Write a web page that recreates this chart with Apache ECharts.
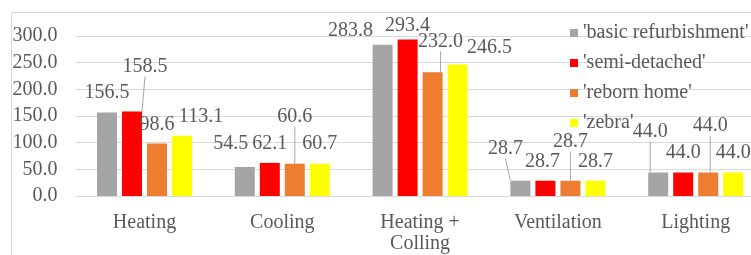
<!DOCTYPE html>
<html>
<head>
<meta charset="utf-8">
<script src="https://cdn.jsdelivr.net/npm/echarts@6/dist/echarts.min.js"></script>
<style>
html,body{margin:0;padding:0;background:#fff;}
#c{width:751px;height:255px;}
</style>
</head>
<body>
<div id="c"></div>
<script>
const categories = ['Heating', 'Cooling', 'Heating +\nColling', 'Ventilation', 'Lighting'];
const seriesNames = ["'basic refurbishment'", "'semi-detached'", "'reborn home'", "'zebra'"];
const basicRefurbishment = [156.5, 54.5, 283.8, 28.7, 44.0];
const semiDetached = [158.5, 62.1, 293.4, 28.7, 44.0];
const rebornHome = [98.6, 60.6, 232.0, 28.7, 44.0];
const zebra = [113.1, 60.7, 246.5, 28.7, 44.0];
const yTicks = [0, 50, 100, 150, 200, 250, 300];

// label layout (style, not data): offsets of labels from the default 'top' place, and leader lines
const labelOffsets = [
  [[0, -4.5], [-14, -8], [-32, 1.5], [-15, -17], [-8, -26]],
  [[13, -30], [0, -4.5], [0, 1.5], [-3, -4], [0, -5]],
  [[0, -4], [0, -32], [8, -16], [0, -24], [2, -31.5]],
  [[19, -4], [0, -5], [32, -1.5], [0, -4], [0, -5]]
];
const leaderLines = [
  [false, false, false, true, true],
  [true, false, false, false, false],
  [false, true, true, true, true],
  [false, false, false, false, false]
];
const colors = ['#A5A5A5', '#FF0000', '#ED7D31', '#FFFF00'];
const values = [basicRefurbishment, semiDetached, rebornHome, zebra];

const FONT = '"Liberation Serif", "Times New Roman", serif';
const TXT = '#595959';

const chart = echarts.init(document.getElementById('c'), null, {renderer: 'canvas'});
const series = values.map((arr, s) => ({
  name: seriesNames[s],
  type: 'bar',
  barWidth: 20,
  barGap: '25%',
  itemStyle: {color: colors[s]},
  label: {
    show: true, position: 'top', distance: 5,
    color: TXT, fontFamily: FONT, fontSize: 20,
    formatter: p => Number(p.value).toFixed(1)
  },
  labelLine: {show: false, lineStyle: {color: '#A6A6A6', width: 1}},
  labelLayout: p => ({dx: labelOffsets[p.seriesIndex][p.dataIndex][0], dy: labelOffsets[p.seriesIndex][p.dataIndex][1]}),
  data: arr.map((v, i) => ({value: v, labelLine: {show: leaderLines[s][i], lineStyle: {color: '#A6A6A6', width: 1}}})),
  z: 2
}));

chart.setOption({
  animation: false,
  color: colors,
  graphic: [{
    type: 'rect', left: 9, top: 10, z: -10, silent: true,
    shape: {x: 0, y: 0, width: 800, height: 300},
    style: {fill: 'none', stroke: '#D9D9D9', lineWidth: 1}
  }],
  grid: {left: 75.6, top: 36, width: 689, height: 160, containLabel: false, outerBoundsMode: 'none'},
  legend: {
    orient: 'vertical', left: 565, top: 18,
    itemWidth: 8, itemHeight: 8, itemGap: 10,
    icon: 'rect',
    data: seriesNames,
    textStyle: {color: TXT, fontFamily: FONT, fontSize: 20, lineHeight: 20, padding: [0, 0, 0, 0]}
  },
  xAxis: {
    type: 'category', data: categories, boundaryGap: true,
    axisLine: {show: true, lineStyle: {color: '#D9D9D9', width: 1}},
    axisTick: {show: false},
    axisLabel: {color: TXT, fontFamily: FONT, fontSize: 20, lineHeight: 21, margin: 16, interval: 0}
  },
  yAxis: {
    type: 'value', min: yTicks[0], max: yTicks[yTicks.length - 1], interval: yTicks[1] - yTicks[0],
    axisLine: {show: false}, axisTick: {show: false},
    splitLine: {lineStyle: {color: '#D9D9D9', width: 1}},
    axisLabel: {color: TXT, fontFamily: FONT, fontSize: 20, margin: 18, formatter: v => v.toFixed(1)}
  },
  series: series
});
</script>
</body>
</html>
